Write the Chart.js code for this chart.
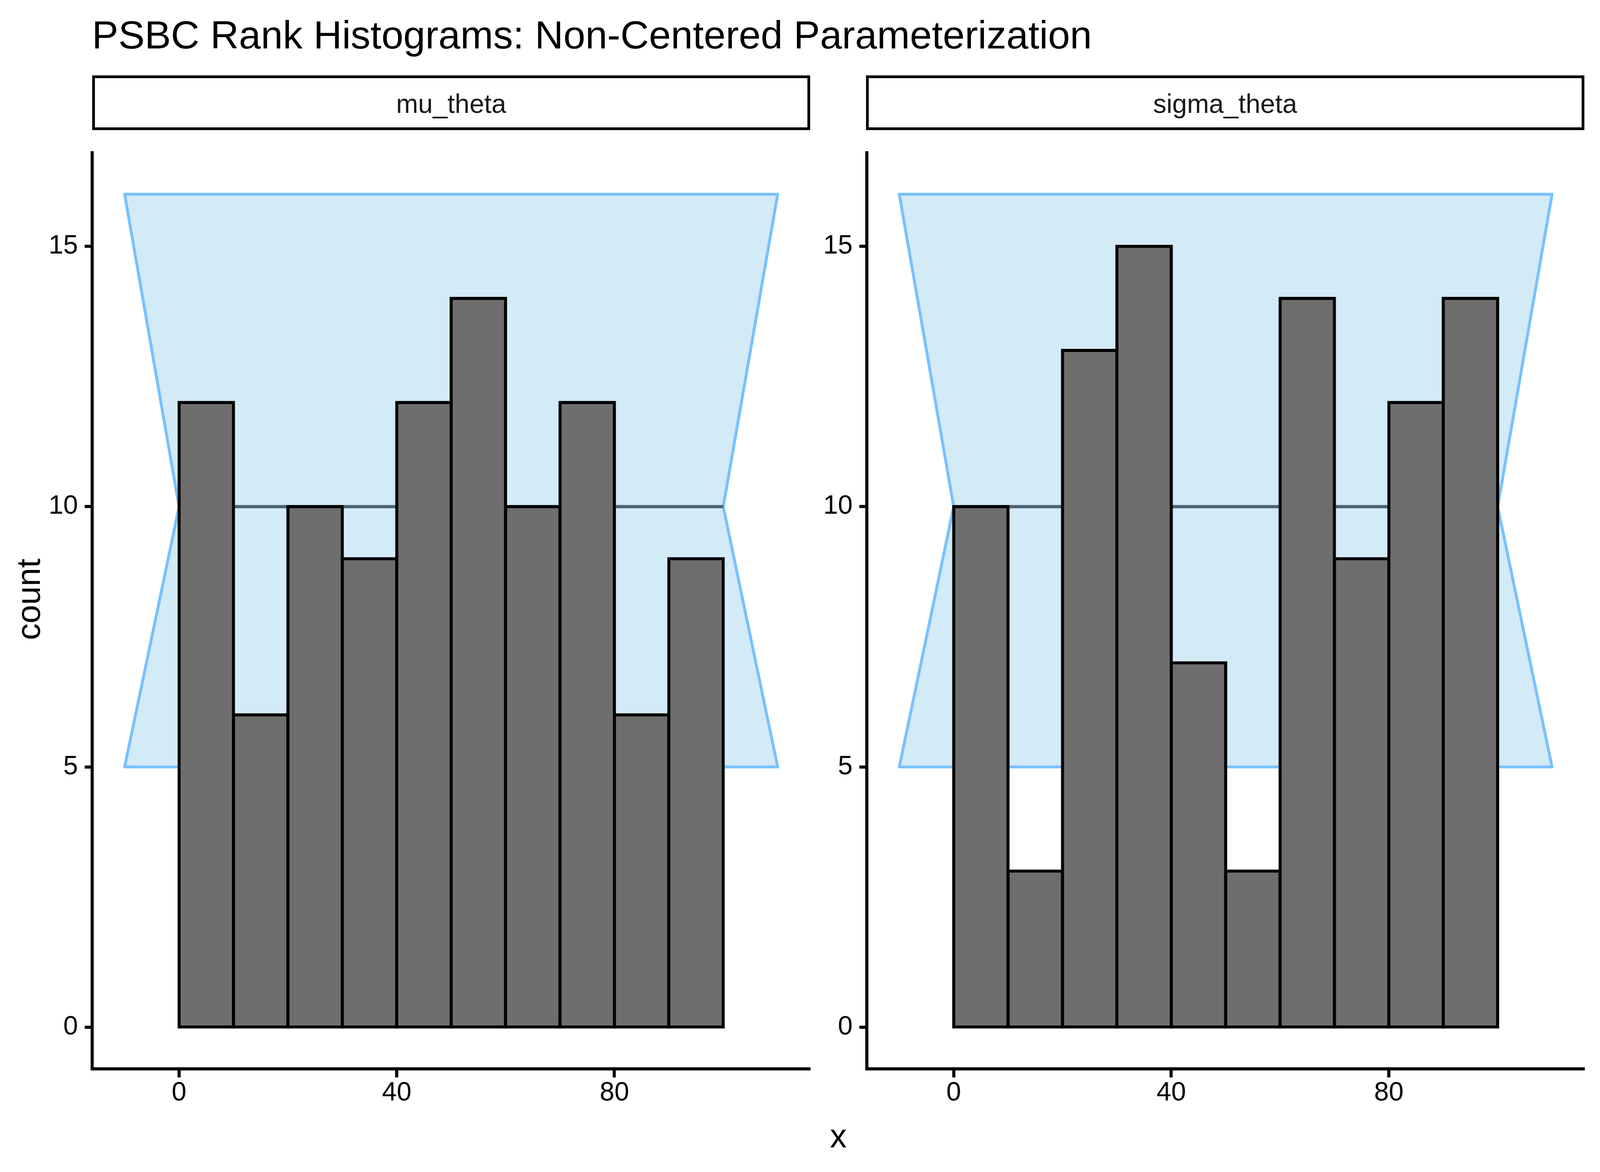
<!DOCTYPE html>
<html>
<head>
<meta charset="utf-8">
<script src="https://cdn.jsdelivr.net/npm/chart.js@4/dist/chart.umd.min.js"></script>
<style>
  html, body { margin: 0; padding: 0; background: #fff; overflow: hidden; }
  body { font-family: "Liberation Sans", Arial, Helvetica, sans-serif; }
  .abs { position: absolute; }
  .txt { position: absolute; white-space: nowrap; line-height: 1; }
  .strip { position: absolute; box-sizing: border-box; border-style: solid; border-color: #000; background: #fff; }
  .strip span { position: absolute; left: 0; right: 0; text-align: center; line-height: 1; color: #1a1a1a; }
</style>
</head>
<body>
<div id="title" class="txt">PSBC Rank Histograms: Non-Centered Parameterization</div>
<div id="s1" class="strip"><span>mu_theta</span></div>
<div id="s2" class="strip"><span>sigma_theta</span></div>
<div id="ylab" class="txt">count</div>
<div id="xlab" class="txt">x</div>
<div id="box1" class="abs"><canvas id="c1"></canvas></div>
<div id="box2" class="abs"><canvas id="c2"></canvas></div>

<script>
// histogram bins (rank, width 10) and counts per parameter
const binMids = [5, 15, 25, 35, 45, 55, 65, 75, 85, 95];
const muTheta = [12, 6, 10, 9, 12, 14, 10, 12, 6, 9];
const sigmaTheta = [10, 3, 13, 15, 7, 3, 14, 9, 12, 14];

// expected count and its band
const expected = 10;
const bandLow = 5;
const bandHigh = 16;
const rankMin = 0;
const rankMax = 100;
const bandReach = 10;

const xTicks = [0, 40, 80];
const yTicks = [0, 5, 10, 15];

// layout is laid out on a 4800x3000 grid and mapped onto the window
const W = window.innerWidth, H = window.innerHeight;
const sx = W / 4800, sy = H / 3000;
const fs = (sx + sy) / 2;
const X = v => v * sx;
const Y = v => v * sy;
const FAM = '"Liberation Sans", Arial, Helvetica, sans-serif';

function place(el, css) { Object.assign(el.style, css); }

const titleSize = 109 * fs, stripSize = 73 * fs, labSize = 92 * fs, tickSize = 73 * fs;
const lw = 8.5 * fs;

place(document.getElementById('title'), {
  left: X(276) + 'px', top: (Y(125) - 0.8465 * titleSize) + 'px', fontSize: titleSize + 'px', color: '#000'
});
[['s1', 276], ['s2', 2598]].forEach(([id, l]) => {
  const el = document.getElementById(id);
  place(el, { left: X(l) + 'px', top: Y(193) + 'px', width: X(2155) + 'px', height: Y(140) + 'px', borderWidth: (8 * fs) + 'px' });
  place(el.firstChild, { fontSize: stripSize + 'px', top: (Y(290 - 193) - 0.8465 * stripSize - 8 * fs) + 'px' });
});
place(document.getElementById('ylab'), {
  left: X(86) + 'px', top: Y(1534) + 'px', fontSize: labSize + 'px', transform: 'translate(-50%, -50%) rotate(-90deg)'
});
place(document.getElementById('xlab'), {
  left: X(2515) + 'px', top: (Y(2937) - 0.8465 * labSize) + 'px', fontSize: labSize + 'px', transform: 'translateX(-50%)'
});

const panelTop = 333, panelBottom = 2736, boxBottom = 2933;
place(document.getElementById('box1'), { left: '0px', top: Y(panelTop) + 'px', width: X(2440) + 'px', height: (Y(boxBottom) - Y(panelTop)) + 'px' });
place(document.getElementById('box2'), { left: X(2440) + 'px', top: Y(panelTop) + 'px', width: (W - X(2440)) + 'px', height: (Y(boxBottom) - Y(panelTop)) + 'px' });

const tickFont = { family: FAM, size: tickSize };

function bandPoints() {
  const l = rankMin - bandReach, r = rankMax + bandReach;
  return [
    { x: l, y: bandHigh }, { x: r, y: bandHigh }, { x: rankMax, y: expected },
    { x: r, y: bandLow }, { x: l, y: bandLow }, { x: rankMin, y: expected },
    { x: l, y: bandHigh }
  ];
}

function makePanel(id, counts, yAxisWidth, rightPad) {
  const bars = binMids.map((m, i) => ({ x: m, y: counts[i] }));
  const xAxisHeight = Y(boxBottom) - Y(panelBottom);
  return new Chart(document.getElementById(id), {
    type: 'bar',
    data: {
      datasets: [
        {
          type: 'bar',
          data: bars,
          backgroundColor: '#6e6e6e',
          borderColor: '#000',
          borderWidth: lw,
          borderSkipped: false,
          inflateAmount: lw / 2,
          barPercentage: 1,
          categoryPercentage: 1,
          order: 0
        },
        {
          type: 'line',
          data: [{ x: rankMin, y: expected }, { x: rankMax, y: expected }],
          borderColor: '#4b6372',
          borderWidth: 9 * fs,
          pointRadius: 0,
          fill: false,
          order: 1
        },
        {
          type: 'line',
          data: bandPoints(),
          borderColor: '#78c1fd',
          backgroundColor: '#d3eaf7',
          borderWidth: 8 * fs,
          borderJoinStyle: 'round',
          borderCapStyle: 'round',
          pointRadius: 0,
          tension: 0,
          fill: 'shape',
          order: 2
        }
      ]
    },
    options: {
      responsive: true,
      maintainAspectRatio: false,
      devicePixelRatio: 1,
      animation: false,
      events: [],
      layout: { padding: { top: 0, bottom: 0, left: 0, right: rightPad } },
      plugins: { legend: { display: false }, tooltip: { enabled: false } },
      scales: {
        x: {
          type: 'linear',
          min: -16,
          max: 116,
          offset: false,
          afterBuildTicks: (s) => { s.ticks = xTicks.map(v => ({ value: v })); },
          afterFit: (s) => { s.height = xAxisHeight; },
          grid: { offset: false, drawOnChartArea: false, drawTicks: true, tickLength: Y(22), tickWidth: lw, tickColor: '#000' },
          border: { display: true, color: '#000', width: lw },
          ticks: { font: tickFont, color: '#000', padding: 0, maxRotation: 0 }
        },
        y: {
          type: 'linear',
          min: -0.8,
          max: 16.8,
          afterBuildTicks: (s) => { s.ticks = yTicks.map(v => ({ value: v })); },
          afterFit: (s) => { s.width = yAxisWidth; },
          grid: { drawOnChartArea: false, drawTicks: true, tickLength: X(22), tickWidth: lw, tickColor: '#000' },
          border: { display: true, color: '#000', width: lw },
          ticks: { font: tickFont, color: '#000', padding: X(20) }
        }
      }
    }
  });
}

makePanel('c1', muTheta, X(276), X(2440) - X(2431));
makePanel('c2', sigmaTheta, X(2600) - X(2440), W - X(4753));
</script>
</body>
</html>
